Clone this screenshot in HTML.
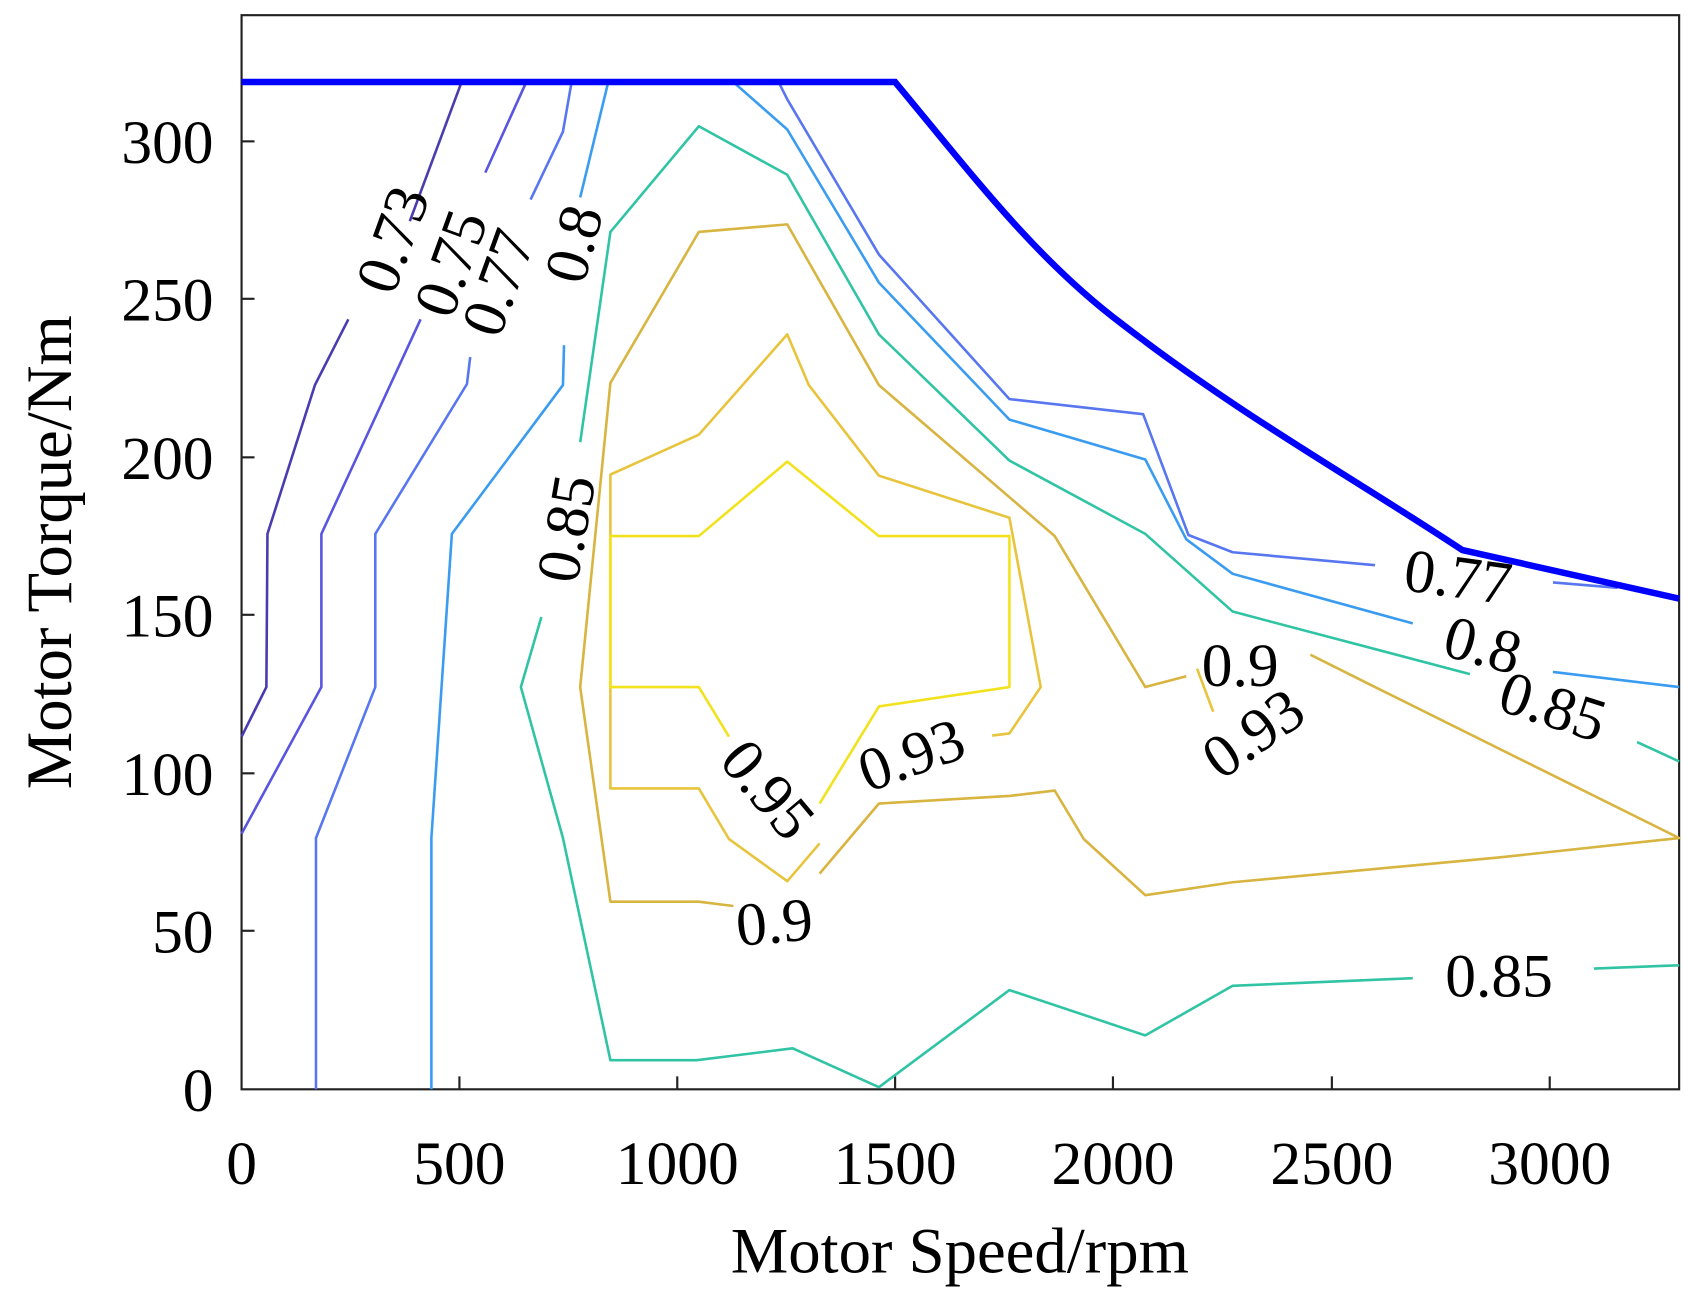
<!DOCTYPE html>
<html><head><meta charset="utf-8"><style>
html,body{margin:0;padding:0;background:#fff;width:1691px;height:1304px;overflow:hidden}
svg text{font-family:"Liberation Serif",serif;fill:#000}
</style></head><body>
<svg width="1691" height="1304" viewBox="0 0 1568 1209" xmlns="http://www.w3.org/2000/svg">
<rect x="224" y="14" width="1333" height="996" fill="#fff" stroke="#222" stroke-width="2"/>
<g stroke="#222" stroke-width="2">
<line x1="426" y1="1010" x2="426" y2="998"/><line x1="628" y1="1010" x2="628" y2="998"/><line x1="830" y1="1010" x2="830" y2="998"/><line x1="1032" y1="1010" x2="1032" y2="998"/><line x1="1235" y1="1010" x2="1235" y2="998"/><line x1="1437" y1="1010" x2="1437" y2="998"/>
<line x1="224" y1="863" x2="236" y2="863"/><line x1="224" y1="717" x2="236" y2="717"/><line x1="224" y1="570" x2="236" y2="570"/><line x1="224" y1="424" x2="236" y2="424"/><line x1="224" y1="277" x2="236" y2="277"/><line x1="224" y1="131" x2="236" y2="131"/>
</g>
<g font-size="57" text-anchor="end">
<text x="198" y="1030">0</text><text x="198" y="883">50</text><text x="198" y="737">100</text><text x="198" y="590">150</text><text x="198" y="444">200</text><text x="198" y="297">250</text><text x="198" y="151">300</text>
</g>
<g font-size="57" text-anchor="middle">
<text x="224" y="1098">0</text><text x="426" y="1098">500</text><text x="628" y="1098">1000</text><text x="830" y="1098">1500</text><text x="1032" y="1098">2000</text><text x="1235" y="1098">2500</text><text x="1437" y="1098">3000</text>
</g>
<text x="890" y="1180" font-size="60" text-anchor="middle">Motor Speed/rpm</text>
<text transform="translate(66,512) rotate(-90)" font-size="60" text-anchor="middle">Motor Torque/Nm</text>
<g fill="none" stroke-width="2.4" stroke-linejoin="round">
<polyline stroke="#4a3cb0" points="224,683 247,637 248,495 292,357 323,296"/>
<polyline stroke="#4a3cb0" points="380,205 428,76"/>
<polyline stroke="#5a55e0" points="224,773 298,637 298,495 390,296"/>
<polyline stroke="#5a55e0" points="450,160 488,76"/>
<polyline stroke="#5876f0" points="293,1010 293,777 348,637 348,495 433,356 436,331"/>
<polyline stroke="#5876f0" points="492,185 522,122 530,76"/>
<polyline stroke="#5876f0" points="722,76 730,92 815,236 936,370 1060,384 1102,496 1143,512 1275,524"/>
<polyline stroke="#5876f0" points="1440,540 1500,545"/>
<polyline stroke="#3a9cf0" points="400,1010 400,777 419,495 522,357 523,320"/>
<polyline stroke="#3a9cf0" points="538,183 564,76"/>
<polyline stroke="#3a9cf0" points="680,76 730,120 815,262 936,389 1062,426 1100,500 1143,532 1310,578"/>
<polyline stroke="#3a9cf0" points="1440,623 1557,637"/>
<polyline stroke="#30c4a4" points="538,410 566,215 648,117 730,162 815,310 936,427 1062,495 1143,567 1363,625"/>
<polyline stroke="#30c4a4" points="1518,688 1557,706"/>
<polyline stroke="#30c4a4" points="502,572 483,637 522,777 566,983 646,983 735,972 815,1008 936,918 1062,960 1143,914 1310,907"/>
<polyline stroke="#30c4a4" points="1478,898 1557,895"/>
<polyline stroke="#d8b440" points="1100,627 1062,637 978,497 815,357 730,208 648,215 566,355 538,637 566,836 648,836 680,840"/>
<polyline stroke="#d8b440" points="760,810 815,745 936,738 978,733 1005,778 1062,830 1143,818 1390,795 1557,777 1275,637 1215,607"/>
<polyline stroke="#e8c43c" points="920,682 936,680 965,637 936,480 815,441 750,357 730,310 648,403 566,440 566,731 648,731 676,778 730,817 760,782"/>
<polyline stroke="#e8c43c" points="1110,620 1125,660"/>
<polyline stroke="#f2e21e" points="676,683 648,637 566,637 566,497 648,497 730,428 815,497 936,497 936,637 815,655 760,745"/>
</g>
<path fill="none" stroke="#0000ff" stroke-width="6" d="M224,76 L830,76 C900,160 960,240 1040,300 C1150,385 1250,440 1356,510 L1557,555"/>
<g font-size="57" text-anchor="middle">
<text transform="translate(364,222) rotate(-70)" dy="19">0.73</text>
<text transform="translate(418,244) rotate(-70)" dy="19">0.75</text>
<text transform="translate(462,262) rotate(-70)" dy="19">0.77</text>
<text transform="translate(532,226) rotate(-75)" dy="19">0.8</text>
<text transform="translate(525,490) rotate(-80)" dy="19">0.85</text>
<text transform="translate(1352,535) rotate(8)" dy="19">0.77</text>
<text transform="translate(1375,598) rotate(15)" dy="19">0.8</text>
<text transform="translate(1440,655) rotate(18)" dy="19">0.85</text>
<text transform="translate(1390,905)" dy="19">0.85</text>
<text transform="translate(1150,617)" dy="19">0.9</text>
<text transform="translate(1162,680) rotate(-35)" dy="19">0.93</text>
<text transform="translate(845,700) rotate(-20)" dy="19">0.93</text>
<text transform="translate(712,732) rotate(50)" dy="19">0.95</text>
<text transform="translate(718,855) rotate(-5)" dy="19">0.9</text>
</g>
</svg>
</body></html>
